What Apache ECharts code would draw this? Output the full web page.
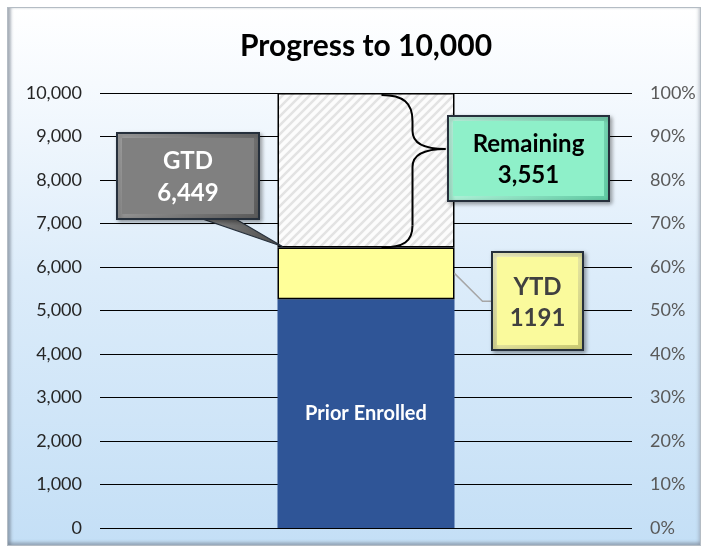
<!DOCTYPE html>
<html><head><meta charset="utf-8">
<script src="https://cdn.jsdelivr.net/npm/echarts@6/dist/echarts.min.js"></script>
<style>
html,body{margin:0;padding:0;background:#fff;}
#wrap{position:relative;width:705px;height:550px;}
#frame{position:absolute;left:7px;top:7px;width:694px;height:539px;box-sizing:border-box;border:1px solid #b4bcc4;
background:linear-gradient(to bottom,#ffffff 0%,#f6fafe 14%,#dcecfa 50%,#c4dff6 100%);
box-shadow: inset 4px 0 3px -1px rgba(110,120,135,0.55), inset 0 -4px 3px -1px rgba(110,120,135,0.45), inset -3px 0 3px -1px rgba(140,150,160,0.35);}
#chart{position:absolute;left:0;top:0;width:705px;height:550px;}
</style></head>
<body>
<div id="wrap"><div id="frame"></div><div id="chart"></div></div>
<script>
// ---- data ----
const categories = ['Progress'];
const priorEnrolled = [5258];
const ytd = [1191];
const remaining = [3551];
const goal = 10000;
const gtdTotal = [6449];
const titleText = 'Progress to 10,000';
const priorLabel = 'Prior Enrolled';
const gtdLabel = ['GTD', '6,449'];
const remainingLabel = ['Remaining', '3,551'];
const ytdLabel = ['YTD', '1191'];

// ---- hatch pattern ----
const pc = document.createElement('canvas');
pc.width = 9; pc.height = 9;
const pctx = pc.getContext('2d');
pctx.fillStyle = '#fcfcfc'; pctx.fillRect(0, 0, 9, 9);
pctx.strokeStyle = '#e3e3e3'; pctx.lineWidth = 2.6;
pctx.beginPath();
pctx.moveTo(-1, 10); pctx.lineTo(10, -1);
pctx.moveTo(-5.5, 5.5); pctx.lineTo(5.5, -5.5);
pctx.moveTo(3.5, 14.5); pctx.lineTo(14.5, 3.5);
pctx.stroke();

const FONT = 'Lato, "Open Sans", sans-serif';
const BAR_W = 177;

const chart = echarts.init(document.getElementById('chart'), null, {renderer: 'canvas'});
chart.setOption({
  backgroundColor: 'transparent',
  animation: false,
  title: {
    text: titleText, left: 361, top: 26, textAlign: 'center',
    textStyle: {fontFamily: FONT, fontSize: 30, fontWeight: 'bold', color: '#000'}
  },
  grid: {left: 100, right: 73, top: 93, bottom: 22},
  xAxis: {
    type: 'category', data: categories,
    axisLine: {show: false}, axisTick: {show: false}, axisLabel: {show: false}, splitLine: {show: false}
  },
  yAxis: [{
    type: 'value', min: 0, max: goal, interval: 1000,
    axisLine: {show: false}, axisTick: {show: false},
    axisLabel: {color: '#262626', fontSize: 18, fontFamily: FONT, margin: 18,
      formatter: v => v.toLocaleString('en-US')},
    splitLine: {lineStyle: {color: '#000', width: 1}}
  }, {
    type: 'value', min: 0, max: 1, interval: 0.1, position: 'right',
    axisLine: {show: false}, axisTick: {show: false},
    axisLabel: {color: '#595959', fontSize: 18, fontFamily: FONT, margin: 18,
      formatter: v => Math.round(v * 100) + '%'},
    splitLine: {show: false}
  }],
  series: [{
    name: 'Prior Enrolled', type: 'bar', stack: 's', data: priorEnrolled, barWidth: BAR_W,
    itemStyle: {color: '#2f5597'},
    label: {show: true, position: 'inside', formatter: priorLabel, color: '#fff',
      fontFamily: FONT, fontSize: 20, fontWeight: 'bold'}
  }, {
    name: 'YTD', type: 'bar', stack: 's', data: ytd, barWidth: BAR_W,
    itemStyle: {color: '#ffff99', borderColor: '#000', borderWidth: 1.5}
  }, {
    name: 'Remaining', type: 'bar', stack: 's', data: remaining, barWidth: BAR_W,
    itemStyle: {color: {image: pc, repeat: 'repeat'}, borderColor: '#000', borderWidth: 1.5}
  }]
});

// ---- annotations positioned from the axes ----
const cx = chart.convertToPixel({xAxisIndex: 0}, categories[0]);
const yGoal = chart.convertToPixel({yAxisIndex: 0}, goal);
const yGtd = chart.convertToPixel({yAxisIndex: 0}, gtdTotal[0]);
const yPrior = chart.convertToPixel({yAxisIndex: 0}, priorEnrolled[0]);
const barL = cx - BAR_W / 2, barR = cx + BAR_W / 2;

function box(x, y, w, h, base, light, dark) {
  return [{
    type: 'rect', z: 100, shape: {x, y, width: w, height: h},
    style: {fill: {type: 'linear', x: 0, y: 0, x2: 1, y2: 1, colorStops: [{offset: 0, color: light}, {offset: 1, color: dark}]},
      stroke: '#26303c', lineWidth: 2, shadowBlur: 4, shadowOffsetX: 2, shadowOffsetY: 2, shadowColor: 'rgba(0,0,0,0.35)'}
  }, {
    type: 'rect', z: 101, shape: {x: x + 5, y: y + 5, width: w - 10, height: h - 10},
    style: {fill: base}
  }];
}
function txt(x, y, text, color, size) {
  return {type: 'text', z: 102, style: {x, y, text, fill: color, font: 'bold ' + size + 'px ' + FONT, align: 'center', verticalAlign: 'middle'}};
}
const braceStyle = {stroke: '#000', lineWidth: 2, fill: null};
function curve(x1, y1, cpx1, cpy1, cpx2, cpy2, x2, y2) {
  return {type: 'bezierCurve', z: 98, shape: {x1, y1, cpx1, cpy1, cpx2, cpy2, x2, y2}, style: braceStyle};
}
function seg(x1, y1, x2, y2) {
  return {type: 'line', z: 98, shape: {x1, y1, x2, y2}, style: braceStyle};
}

const tipY = yGoal + 56;
const bx0 = barL + 104, bx1 = barL + 135, tipX = barL + 168;
const yTopB = yGoal + 2;

const yMidYtd = (yGtd + yPrior) / 2;

const elements = [];
// GTD pointer wedge
elements.push({type: 'polygon', z: 99, shape: {points: [[200, 218], [234, 218], [barL + 5, yGtd - 1]]},
  style: {fill: {type: 'linear', x: 0, y: 0, x2: 1, y2: 0, colorStops: [{offset: 0, color: '#8a8a8a'}, {offset: 1, color: '#4a4a4a'}]},
    stroke: '#26303c', lineWidth: 1.2}});
elements.push(...box(117, 133, 142, 86, '#808080', '#a8a8a8', '#5a5a5a'));
elements.push(txt(188, 161, gtdLabel[0], '#ffffff', 24));
elements.push(txt(188, 193, gtdLabel[1], '#ffffff', 24));
// brace
elements.push(curve(bx0, yTopB, bx0 + 22, yTopB, bx1, yTopB + 8, bx1, yTopB + 26));
elements.push(seg(bx1, yTopB + 26, bx1, tipY - 18));
elements.push(curve(bx1, tipY - 18, bx1, tipY - 6, bx1 + 12, tipY, tipX, tipY));
elements.push(curve(tipX, tipY, bx1 + 12, tipY, bx1, tipY + 6, bx1, tipY + 18));
elements.push(seg(bx1, tipY + 18, bx1, yGtd - 22));
elements.push(curve(bx1, yGtd - 22, bx1, yGtd - 6, bx0 + 22, yGtd, bx0, yGtd));
// Remaining box
elements.push(...box(448, 116, 161, 85, '#8ef0c9', '#c4fbe6', '#5fc9a2'));
elements.push(txt(528.5, 144, remainingLabel[0], '#000000', 24));
elements.push(txt(528.5, 175, remainingLabel[1], '#000000', 24));
// YTD leader
elements.push({type: 'polyline', z: 98, shape: {points: [[barR, yMidYtd], [barR + 28, yMidYtd + 28], [492, yMidYtd + 28]]},
  style: {stroke: '#a6a6a6', lineWidth: 1.5, fill: null}});
elements.push(...box(492, 252, 91, 98, '#fafa9c', '#ffffd0', '#c8c870'));
elements.push(txt(537.5, 287, ytdLabel[0], '#404040', 24));
elements.push(txt(537.5, 318, ytdLabel[1], '#404040', 24));

chart.setOption({graphic: {elements}});
</script>
</body></html>
